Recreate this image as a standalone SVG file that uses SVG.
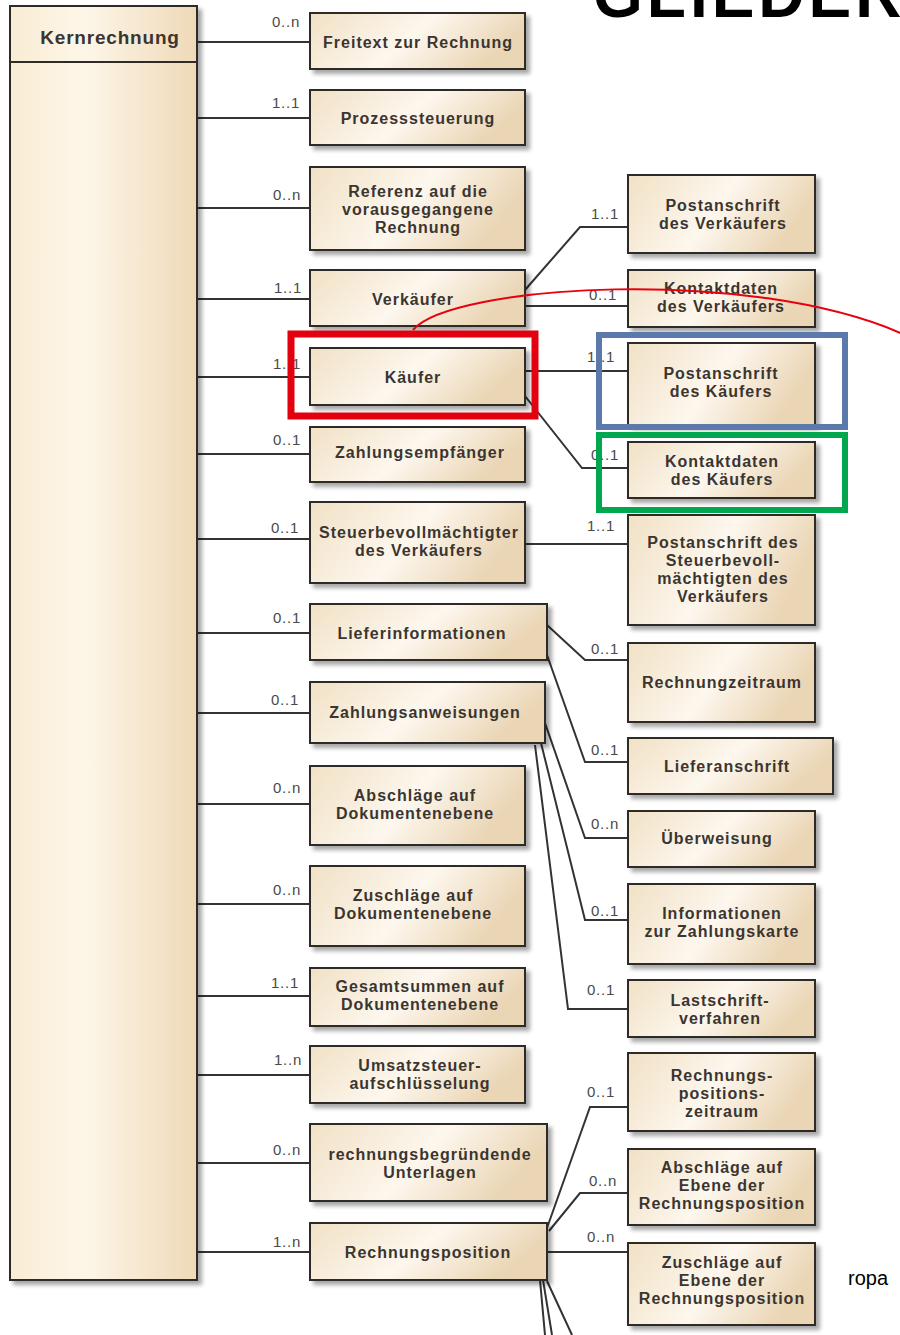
<svg xmlns="http://www.w3.org/2000/svg" width="900" height="1335" viewBox="0 0 900 1335">
<defs>
<linearGradient id="gb" x1="0" y1="0" x2="1" y2="0.3">
<stop offset="0" stop-color="#f1e1c5"/>
<stop offset="0.55" stop-color="#fdf7ee"/>
<stop offset="1" stop-color="#ead5b4"/>
</linearGradient>
<linearGradient id="gk" x1="0" y1="0" x2="1" y2="0">
<stop offset="0" stop-color="#f9ecd4"/>
<stop offset="0.4" stop-color="#fdf6e8"/>
<stop offset="1" stop-color="#efd9b8"/>
</linearGradient>
<filter id="sh" x="-10%" y="-10%" width="130%" height="140%">
<feGaussianBlur in="SourceAlpha" stdDeviation="2"/>
<feOffset dx="4" dy="4" result="o"/>
<feComponentTransfer><feFuncA type="linear" slope="0.35"/></feComponentTransfer>
<feMerge><feMergeNode/><feMergeNode in="SourceGraphic"/></feMerge>
</filter>
<style>
.b{fill:url(#gb);stroke:#2f2b27;stroke-width:2;filter:url(#sh)}
.t{font-family:"Liberation Sans",Arial,sans-serif;font-weight:bold;font-size:16px;letter-spacing:1px;fill:#3b3530;text-anchor:middle}
.m{font-family:"Liberation Sans",Arial,sans-serif;font-size:15px;letter-spacing:0.8px;fill:#4a4a4a;text-anchor:middle}
.c{fill:none;stroke:#333;stroke-width:2}
</style>
</defs>
<rect width="900" height="1335" fill="#fff"/>
<text x="593" y="17" font-family="Liberation Sans,Arial,sans-serif" font-weight="bold" font-size="64" letter-spacing="4" fill="#000">GLIEDER</text>
<text x="848" y="1285" font-family="Liberation Sans,Arial,sans-serif" font-size="20" fill="#000">ropa</text>

<g id="connectors">
<path class="c" d="M197,42H310M197,118H310M197,208H310M197,299H310M197,377H310M197,454H310M197,539H310M197,633H310M197,713H310M197,804H310M197,904H310M197,996H310M197,1075H310M197,1163H310M197,1252H310"/>
<path class="c" d="M525,290L580,227H628M525,306H628M525,371H628M525,396L582,468H628M525,544H628"/>
<path class="c" d="M547,625L585,660H628M547,655L585,762H628M545,723L585,838H628M541,743L585,920H628M535,745L568,1009H628"/>
<path class="c" d="M547,1228L590,1107H628M549,1231L580,1193H628M547,1252H628M540,1280L545,1335M543,1280L552,1335M547,1281L572,1335"/>
</g>

<g id="labels">
<text class="m" x="286" y="27">0..n</text>
<text class="m" x="286" y="108">1..1</text>
<text class="m" x="287" y="200">0..n</text>
<text class="m" x="288" y="293">1..1</text>
<text class="m" x="287" y="369">1..1</text>
<text class="m" x="287" y="445">0..1</text>
<text class="m" x="285" y="533">0..1</text>
<text class="m" x="287" y="623">0..1</text>
<text class="m" x="285" y="705">0..1</text>
<text class="m" x="287" y="793">0..n</text>
<text class="m" x="287" y="895">0..n</text>
<text class="m" x="285" y="988">1..1</text>
<text class="m" x="288" y="1065">1..n</text>
<text class="m" x="287" y="1155">0..n</text>
<text class="m" x="287" y="1247">1..n</text>
<text class="m" x="605" y="219">1..1</text>
<text class="m" x="603" y="300">0..1</text>
<text class="m" x="601" y="362">1..1</text>
<text class="m" x="605" y="460">0..1</text>
<text class="m" x="601" y="531">1..1</text>
<text class="m" x="605" y="654">0..1</text>
<text class="m" x="605" y="755">0..1</text>
<text class="m" x="605" y="829">0..n</text>
<text class="m" x="605" y="916">0..1</text>
<text class="m" x="601" y="995">0..1</text>
<text class="m" x="601" y="1097">0..1</text>
<text class="m" x="603" y="1186">0..n</text>
<text class="m" x="601" y="1242">0..n</text>
</g>

<g id="kernrechnung">
<rect x="10" y="6" width="187" height="1274" fill="url(#gk)" stroke="#2f2b27" stroke-width="2" filter="url(#sh)"/>
<line x1="10" y1="62" x2="197" y2="62" stroke="#2f2b27" stroke-width="2"/>
<text x="110" y="44" font-family="Liberation Sans,Arial,sans-serif" font-weight="bold" font-size="19" letter-spacing="0.8" fill="#3b3530" text-anchor="middle">Kernrechnung</text>
</g>

<g id="freitext"><rect class="b" x="310" y="13" width="215" height="56"/><text class="t" x="418" y="48">Freitext zur Rechnung</text></g>
<g id="prozess"><rect class="b" x="310" y="90" width="215" height="55"/><text class="t" x="418" y="124">Prozesssteuerung</text></g>
<g id="referenz"><rect class="b" x="310" y="167" width="215" height="83"/><text class="t" x="418"><tspan x="418" y="197">Referenz auf die</tspan><tspan x="418" y="215">vorausgegangene</tspan><tspan x="418" y="233">Rechnung</tspan></text></g>
<g id="verkaeufer"><rect class="b" x="310" y="270" width="215" height="56"/><text class="t" x="413" y="305">Verkäufer</text></g>
<g id="kaeufer"><rect class="b" x="310" y="348" width="215" height="57"/><text class="t" x="413" y="383">Käufer</text></g>
<g id="zahlungsempf"><rect class="b" x="310" y="427" width="215" height="55"/><text class="t" x="420" y="458">Zahlungsempfänger</text></g>
<g id="steuerbev"><rect class="b" x="310" y="502" width="215" height="81"/><text class="t"><tspan x="419" y="538">Steuerbevollmächtigter</tspan><tspan x="419" y="556">des Verkäufers</tspan></text></g>
<g id="lieferinfo"><rect class="b" x="310" y="604" width="237" height="56"/><text class="t" x="422" y="639">Lieferinformationen</text></g>
<g id="zahlungsanw"><rect class="b" x="310" y="682" width="235" height="61"/><text class="t" x="425" y="718">Zahlungsanweisungen</text></g>
<g id="abschlaege-dok"><rect class="b" x="310" y="766" width="215" height="79"/><text class="t"><tspan x="415" y="801">Abschläge auf</tspan><tspan x="415" y="819">Dokumentenebene</tspan></text></g>
<g id="zuschlaege-dok"><rect class="b" x="310" y="866" width="215" height="80"/><text class="t"><tspan x="413" y="901">Zuschläge auf</tspan><tspan x="413" y="919">Dokumentenebene</tspan></text></g>
<g id="gesamtsummen"><rect class="b" x="310" y="968" width="215" height="58"/><text class="t"><tspan x="420" y="992">Gesamtsummen auf</tspan><tspan x="420" y="1010">Dokumentenebene</tspan></text></g>
<g id="umsatzsteuer"><rect class="b" x="310" y="1046" width="215" height="57"/><text class="t"><tspan x="420" y="1071">Umsatzsteuer-</tspan><tspan x="420" y="1089">aufschlüsselung</tspan></text></g>
<g id="unterlagen"><rect class="b" x="310" y="1124" width="237" height="77"/><text class="t"><tspan x="430" y="1160">rechnungsbegründende</tspan><tspan x="430" y="1178">Unterlagen</tspan></text></g>
<g id="rechnungsposition"><rect class="b" x="310" y="1223" width="237" height="57"/><text class="t" x="428" y="1258">Rechnungsposition</text></g>

<g id="postanschrift-v"><rect class="b" x="628" y="175" width="187" height="78"/><text class="t"><tspan x="723" y="211">Postanschrift</tspan><tspan x="723" y="229">des Verkäufers</tspan></text></g>
<g id="kontakt-v"><rect class="b" x="628" y="270" width="187" height="57"/><text class="t"><tspan x="721" y="294">Kontaktdaten</tspan><tspan x="721" y="312">des Verkäufers</tspan></text></g>
<g id="postanschrift-k"><rect class="b" x="628" y="343" width="187" height="82"/><text class="t"><tspan x="721" y="379">Postanschrift</tspan><tspan x="721" y="397">des Käufers</tspan></text></g>
<g id="kontakt-k"><rect class="b" x="628" y="442" width="187" height="56"/><text class="t"><tspan x="722" y="467">Kontaktdaten</tspan><tspan x="722" y="485">des Käufers</tspan></text></g>
<g id="postanschrift-st"><rect class="b" x="628" y="515" width="187" height="110"/><text class="t"><tspan x="723" y="548">Postanschrift des</tspan><tspan x="723" y="566">Steuerbevoll-</tspan><tspan x="723" y="584">mächtigten des</tspan><tspan x="723" y="602">Verkäufers</tspan></text></g>
<g id="rechnungzeitraum"><rect class="b" x="628" y="643" width="187" height="79"/><text class="t" x="722" y="688">Rechnungzeitraum</text></g>
<g id="lieferanschrift"><rect class="b" x="628" y="738" width="205" height="56"/><text class="t" x="727" y="772">Lieferanschrift</text></g>
<g id="ueberweisung"><rect class="b" x="628" y="811" width="187" height="56"/><text class="t" x="717" y="844">Überweisung</text></g>
<g id="zahlungskarte"><rect class="b" x="628" y="884" width="187" height="80"/><text class="t"><tspan x="722" y="919">Informationen</tspan><tspan x="722" y="937">zur Zahlungskarte</tspan></text></g>
<g id="lastschrift"><rect class="b" x="628" y="980" width="187" height="57"/><text class="t"><tspan x="720" y="1006">Lastschrift-</tspan><tspan x="720" y="1024">verfahren</tspan></text></g>
<g id="rp-zeitraum"><rect class="b" x="628" y="1053" width="187" height="78"/><text class="t"><tspan x="722" y="1081">Rechnungs-</tspan><tspan x="722" y="1099">positions-</tspan><tspan x="722" y="1117">zeitraum</tspan></text></g>
<g id="abschlaege-rp"><rect class="b" x="628" y="1149" width="187" height="76"/><text class="t"><tspan x="722" y="1173">Abschläge auf</tspan><tspan x="722" y="1191">Ebene der</tspan><tspan x="722" y="1209">Rechnungsposition</tspan></text></g>
<g id="zuschlaege-rp"><rect class="b" x="628" y="1243" width="187" height="82"/><text class="t"><tspan x="722" y="1268">Zuschläge auf</tspan><tspan x="722" y="1286">Ebene der</tspan><tspan x="722" y="1304">Rechnungsposition</tspan></text></g>

<g id="highlights">
<path d="M413,330C450,285 750,265 905,335" fill="none" stroke="#e8000e" stroke-width="2"/>
<rect x="291" y="334" width="244" height="82" fill="none" stroke="#e3000f" stroke-width="7"/>
<rect x="599" y="335" width="246" height="92" fill="none" stroke="#5b7aab" stroke-width="6"/>
<rect x="599" y="435" width="246" height="75" fill="none" stroke="#00a74f" stroke-width="6"/>
</g>
</svg>
